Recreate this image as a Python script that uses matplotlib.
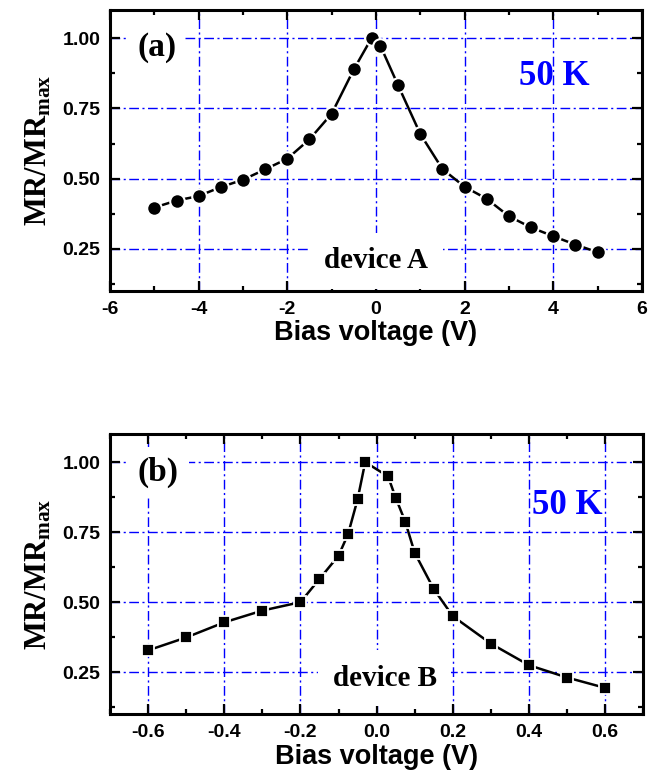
import matplotlib
matplotlib.use('Agg')
import matplotlib.pyplot as plt
from matplotlib.ticker import MultipleLocator, FormatStrFormatter

# device A, 50 K
bias_a = [-5, -4.5, -4, -3.5, -3, -2.5, -2, -1.5, -1, -0.5, -0.1,
          0.1, 0.5, 1, 1.5, 2, 2.5, 3, 3.5, 4, 4.5, 5]
mr_a = [0.397, 0.422, 0.438, 0.470, 0.496, 0.533, 0.571, 0.640, 0.731, 0.889, 1.000,
        0.973, 0.832, 0.659, 0.534, 0.471, 0.428, 0.366, 0.326, 0.295, 0.265, 0.238]

# device B, 50 K
bias_b = [-0.6, -0.5, -0.4, -0.3, -0.2, -0.15, -0.1, -0.075, -0.05, -0.03,
          0.03, 0.05, 0.075, 0.1, 0.15, 0.2, 0.3, 0.4, 0.5, 0.6]
mr_b = [0.328, 0.374, 0.428, 0.470, 0.500, 0.583, 0.666, 0.743, 0.867, 1.000,
        0.949, 0.873, 0.788, 0.676, 0.547, 0.450, 0.352, 0.275, 0.231, 0.194]

plt.rcParams['axes.unicode_minus'] = False
plt.rcParams['mathtext.fontset'] = 'custom'
plt.rcParams['mathtext.rm'] = 'Liberation Serif:bold'
plt.rcParams['mathtext.it'] = 'Liberation Serif:bold'
plt.rcParams['mathtext.bf'] = 'Liberation Serif:bold'

SANS = 'Liberation Sans'
SERIF = 'Liberation Serif'
BLUE = '#0000ff'

fig = plt.figure(figsize=(6.55, 7.78), dpi=100)
ax_a = fig.add_axes([0.168, 0.626, 0.812, 0.361])
ax_b = fig.add_axes([0.168, 0.082, 0.814, 0.360])


def style_axes(ax, xmaj, xmin, xfmt):
    ax.set_ylim(0.1, 1.1)
    ax.xaxis.set_major_locator(MultipleLocator(xmaj))
    ax.xaxis.set_minor_locator(MultipleLocator(xmin))
    ax.xaxis.set_major_formatter(FormatStrFormatter(xfmt))
    ax.yaxis.set_major_locator(MultipleLocator(0.25))
    ax.yaxis.set_minor_locator(MultipleLocator(0.125))
    ax.yaxis.set_major_formatter(FormatStrFormatter('%.2f'))
    ax.tick_params(which='both', direction='in', top=True, right=True, width=1.6)
    ax.tick_params(which='major', length=7, pad=7)
    ax.tick_params(which='minor', length=3.5)
    for lab in ax.get_xticklabels() + ax.get_yticklabels():
        lab.set_fontfamily(SANS)
        lab.set_fontweight('bold')
        lab.set_fontsize(14)
    for sp in ax.spines.values():
        sp.set_linewidth(2.2)
    ax.grid(True, which='major', color=BLUE, linestyle=(0, (7, 2.5, 1.5, 2.5)),
            linewidth=1.0)
    ax.set_axisbelow(True)
    ax.set_xlabel('Bias voltage (V)', fontfamily=SANS, fontweight='bold',
                  fontsize=19.5, labelpad=2)
    ax.set_ylabel('MR/MR$_\\mathrm{max}$', fontfamily=SERIF, fontweight='bold',
                  fontsize=22, labelpad=6)


# panel (a)
ax_a.plot(bias_a, mr_a, color='black', lw=1.8, marker='o', ms=10.5,
          mfc='black', mec='white', mew=1.5, zorder=3)
ax_a.set_xlim(-6, 6)
style_axes(ax_a, 2, 1, '%d')
ax_a.text(0.088, 0.868, '(a)', transform=ax_a.transAxes, ha='center', va='center',
          fontfamily=SERIF, fontweight='bold', fontsize=24,
          bbox=dict(boxstyle='square,pad=0.25', fc='white', ec='none'), zorder=2)
ax_a.text(0.836, 0.762, '50 K', transform=ax_a.transAxes, ha='center', va='center',
          fontfamily=SERIF, fontweight='bold', fontsize=25, color=BLUE)
ax_a.text(0.5, 0.107, 'device A', transform=ax_a.transAxes, ha='center', va='center',
          fontfamily=SERIF, fontweight='bold', fontsize=21,
          bbox=dict(boxstyle='square,pad=0.5', fc='white', ec='none'), zorder=2)

# panel (b)
ax_b.plot(bias_b, mr_b, color='black', lw=1.8, marker='s', ms=9,
          mfc='black', mec='white', mew=1.3, zorder=3)
ax_b.set_xlim(-0.7, 0.7)
style_axes(ax_b, 0.2, 0.1, '%.1f')
ax_b.text(0.090, 0.864, '(b)', transform=ax_b.transAxes, ha='center', va='center',
          fontfamily=SERIF, fontweight='bold', fontsize=24,
          bbox=dict(boxstyle='square,pad=0.3', fc='white', ec='none'), zorder=2)
ax_b.text(0.857, 0.746, '50 K', transform=ax_b.transAxes, ha='center', va='center',
          fontfamily=SERIF, fontweight='bold', fontsize=25, color=BLUE)
ax_b.text(0.515, 0.129, 'device B', transform=ax_b.transAxes, ha='center', va='center',
          fontfamily=SERIF, fontweight='bold', fontsize=21,
          bbox=dict(boxstyle='square,pad=0.5', fc='white', ec='none'), zorder=2)

fig.savefig('out.png', dpi=100)
